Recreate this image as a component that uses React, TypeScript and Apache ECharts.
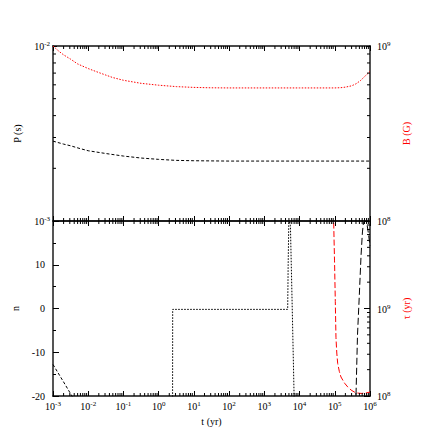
import React, { useEffect, useRef } from "react";
import * as echarts from "echarts";

// ---- data ----
const P_T = [1e-3, 2e-3, 3.16e-3, 6e-3, 1e-2, 3.16e-2, 1e-1, 3.16e-1, 1, 3.16, 10, 100, 1e3, 1e4, 1e5, 1e6];
const P_VAL = [2.86e-3, 2.75e-3, 2.69e-3, 2.59e-3, 2.52e-3, 2.43e-3, 2.35e-3, 2.29e-3, 2.25e-3, 2.22e-3, 2.21e-3, 2.2e-3, 2.2e-3, 2.2e-3, 2.2e-3, 2.2e-3];

const B_T = [1e-3, 1.5e-3, 2e-3, 3.16e-3, 5e-3, 1e-2, 2e-2, 3.16e-2, 5e-2, 1e-1, 3.16e-1, 1, 3.16, 10, 30, 100, 1e3, 1e4, 1e5, 1.5e5, 2e5, 3e5, 4e5, 5.3e5, 7.2e5, 1e6];
const B_VAL = [1.0e9, 9.3e8, 8.9e8, 8.41e8, 7.9e8, 7.43e8, 7.05e8, 6.82e8, 6.6e8, 6.37e8, 6.12e8, 5.97e8, 5.86e8, 5.8e8, 5.77e8, 5.76e8, 5.76e8, 5.76e8, 5.76e8, 5.78e8, 5.82e8, 5.92e8, 6.08e8, 6.33e8, 6.72e8, 7.15e8];

const N_EARLY_T = [1e-3, 2e-3, 3.45e-3, 3.7e-3];
const N_EARLY = [-12.8, -16.8, -20, -20.5];

const N_STEP_T = [2.48, 2.5, 4.6e3, 4.75e3, 4.95e3, 5.25e3, 5.5e3, 6.2e3, 7.0e3, 7.2e3];
const N_STEP = [-25, -0.2, -0.2, 10, 19.5, 19.9, 19, 0, -20, -22];

const N_LATE_T = [3.95e5, 4.0e5, 4.42e5, 4.97e5, 5.56e5, 6.1e5, 6.55e5, 7.3e5, 8.07e5, 8.9e5, 1e6];
const N_LATE = [-22, -20, -6, 3, 12, 17.5, 19.7, 20, 19.6, 17.5, 14.3];

const TAU_T = [9.2e4, 9.84e4, 1.035e5, 1.08e5, 1.14e5, 1.21e5, 1.35e5, 1.5e5, 1.9e5, 2.33e5, 2.9e5, 3.59e5, 4.5e5, 5.6e5, 7.5e5, 1e6];
const TAU = [1.2e10, 3.5e9, 1.2e9, 4.7e8, 3.1e8, 2.35e8, 1.9e8, 1.65e8, 1.4e8, 1.27e8, 1.17e8, 1.11e8, 1.08e8, 1.07e8, 1.08e8, 1.11e8];

// tick positions
const X_DECADES = [-3, -2, -1, 0, 1, 2, 3, 4, 5];
const P_DECADES = [-3];
const B_DECADES = [8];
const TAU_DECADES = [8, 9];
const MINOR_MULT = [2, 3, 4, 5, 6, 7, 8, 9];

const FONT = '"Liberation Serif", "Times New Roman", serif';

const zip = (a: number[], b: number[]) => a.map((v, i) => [v, b[i]]);
const minors = (decs: number[]) => decs.flatMap((d) => MINOR_MULT.map((m) => m * Math.pow(10, d)));

const RICH = {
  b: { fontSize: 10, fontFamily: FONT, color: "#000", verticalAlign: "bottom" },
  s: { fontSize: 7, fontFamily: FONT, color: "#000", verticalAlign: "bottom", padding: [0, 0, 4, 0] },
};
const supFmt = (v: number) => `{b|10}{s|${Math.round(Math.log10(v))}}`;

function tickSeries(xIdx: number, yIdx: number, pts: number[][], dx: number, dy: number) {
  return {
    type: "custom",
    xAxisIndex: xIdx,
    yAxisIndex: yIdx,
    silent: true,
    clip: false,
    z: 5,
    data: pts,
    renderItem: (_p: any, api: any) => {
      const p = api.coord([api.value(0), api.value(1)]);
      return {
        type: "line",
        shape: { x1: p[0], y1: p[1], x2: p[0] + dx, y2: p[1] + dy },
        style: { stroke: "#000", lineWidth: 1 },
      };
    },
  };
}

function lineSeries(xIdx: number, yIdx: number, data: number[][], color: string, dash: number[]) {
  return {
    type: "line",
    xAxisIndex: xIdx,
    yAxisIndex: yIdx,
    data,
    symbol: "none",
    showSymbol: false,
    clip: true,
    lineStyle: { color, width: 1, type: dash },
  };
}

export default function App() {
  const ref = useRef<HTMLDivElement>(null);
  useEffect(() => {
    if (!ref.current) return;
    const chart = echarts.init(ref.current, undefined, { renderer: "svg" });
    const xBase = {
      type: "log",
      logBase: 10,
      min: 1e-3,
      max: 1e6,
      axisLine: { show: true, onZero: false, lineStyle: { color: "#111", width: 1.5 } },
      axisTick: { show: true, inside: true, length: 5, lineStyle: { color: "#000" } },
      splitLine: { show: false },
    };
    const xMinor = minors(X_DECADES);
    const nameStyle = (color: string) => ({ fontFamily: FONT, fontSize: 10, color });
    const option: any = {
      animation: false,
      backgroundColor: "#fff",
      textStyle: { fontFamily: FONT },
      grid: [
        { left: 53, top: 46, width: 317, height: 175 },
        { left: 53, top: 221, width: 317, height: 175 },
      ],
      xAxis: [
        { ...xBase, gridIndex: 0, position: "bottom", axisLabel: { show: false } },
        { ...xBase, gridIndex: 0, position: "top", axisLabel: { show: false } },
        {
          ...xBase,
          gridIndex: 1,
          position: "bottom",
          axisLabel: { show: true, formatter: supFmt, rich: RICH, margin: 4 },
          name: "t (yr)",
          nameLocation: "middle",
          nameGap: 20,
          nameTextStyle: nameStyle("#000"),
        },
        { ...xBase, gridIndex: 1, position: "top", axisLabel: { show: false } },
      ],
      yAxis: [
        {
          type: "log",
          gridIndex: 0,
          position: "left",
          min: 1e-3,
          max: 1e-2,
          axisLine: { show: true, onZero: false, lineStyle: { color: "#555", width: 2 } },
          axisTick: { show: true, inside: true, length: 4, lineStyle: { color: "#000" } },
          axisLabel: { formatter: supFmt, rich: RICH, margin: 3 },
          splitLine: { show: false },
          name: "P (s)",
          nameLocation: "middle",
          nameRotate: 90,
          nameGap: 31,
          nameTextStyle: nameStyle("#000"),
        },
        {
          type: "log",
          gridIndex: 0,
          position: "right",
          min: 1e8,
          max: 1e9,
          axisLine: { show: true, onZero: false, lineStyle: { color: "#555", width: 2 } },
          axisTick: { show: true, inside: true, length: 4, lineStyle: { color: "#000" } },
          axisLabel: { formatter: supFmt, rich: RICH, margin: 7 },
          splitLine: { show: false },
          name: "B (G)",
          nameLocation: "middle",
          nameRotate: 90,
          nameGap: 26,
          nameTextStyle: nameStyle("#f00"),
        },
        {
          type: "value",
          gridIndex: 1,
          position: "left",
          min: -20,
          max: 20,
          interval: 10,
          axisLine: { show: true, onZero: false, lineStyle: { color: "#555", width: 2 } },
          axisTick: { show: true, inside: true, length: 6, lineStyle: { color: "#000" } },
          minorTick: { show: true, splitNumber: 2, length: 3, lineStyle: { color: "#000" } },
          axisLabel: { showMaxLabel: false, fontSize: 10, fontFamily: FONT, color: "#000", margin: 8 },
          splitLine: { show: false },
          name: "n",
          nameLocation: "middle",
          nameRotate: 90,
          nameGap: 31,
          nameTextStyle: nameStyle("#000"),
        },
        {
          type: "log",
          gridIndex: 1,
          position: "right",
          min: 1e8,
          max: 1e10,
          axisLine: { show: true, onZero: false, lineStyle: { color: "#555", width: 2 } },
          axisTick: { show: true, inside: true, length: 6, lineStyle: { color: "#000" } },
          axisLabel: { showMaxLabel: false, formatter: supFmt, rich: RICH, margin: 7 },
          splitLine: { show: false },
          name: "τ (yr)",
          nameLocation: "middle",
          nameRotate: 90,
          nameGap: 25,
          nameTextStyle: nameStyle("#f00"),
        },
      ],
      series: [
        lineSeries(0, 0, zip(P_T, P_VAL), "#000", [3, 2]),
        lineSeries(0, 1, zip(B_T, B_VAL), "#f00", [1.5, 1.5]),
        lineSeries(2, 2, zip(N_EARLY_T, N_EARLY), "#000", [3, 2]),
        lineSeries(2, 2, zip(N_STEP_T, N_STEP), "#000", [1.6, 1.4]),
        lineSeries(2, 3, zip(TAU_T, TAU), "#f00", [6, 2.5]),
        lineSeries(2, 2, zip(N_LATE_T, N_LATE), "#000", [7, 3]),
        tickSeries(0, 0, xMinor.map((v) => [v, 1e-3]), 0, -3),
        tickSeries(0, 0, xMinor.map((v) => [v, 1e-2]), 0, 3),
        tickSeries(2, 2, xMinor.map((v) => [v, -20]), 0, -3),
        tickSeries(2, 2, xMinor.map((v) => [v, 20]), 0, 3),
        tickSeries(0, 0, minors(P_DECADES).map((v) => [1e-3, v]), 3, 0),
        tickSeries(0, 1, minors(B_DECADES).map((v) => [1e6, v]), -3, 0),
        tickSeries(2, 3, minors(TAU_DECADES).map((v) => [1e6, v]), -3, 0),
      ],
    };
    chart.setOption(option);
    return () => chart.dispose();
  }, []);
  return (
    <div
      ref={ref}
      style={{ position: "fixed", left: 0, top: 0, width: 442, height: 435, background: "#fff" }}
    />
  );
}
